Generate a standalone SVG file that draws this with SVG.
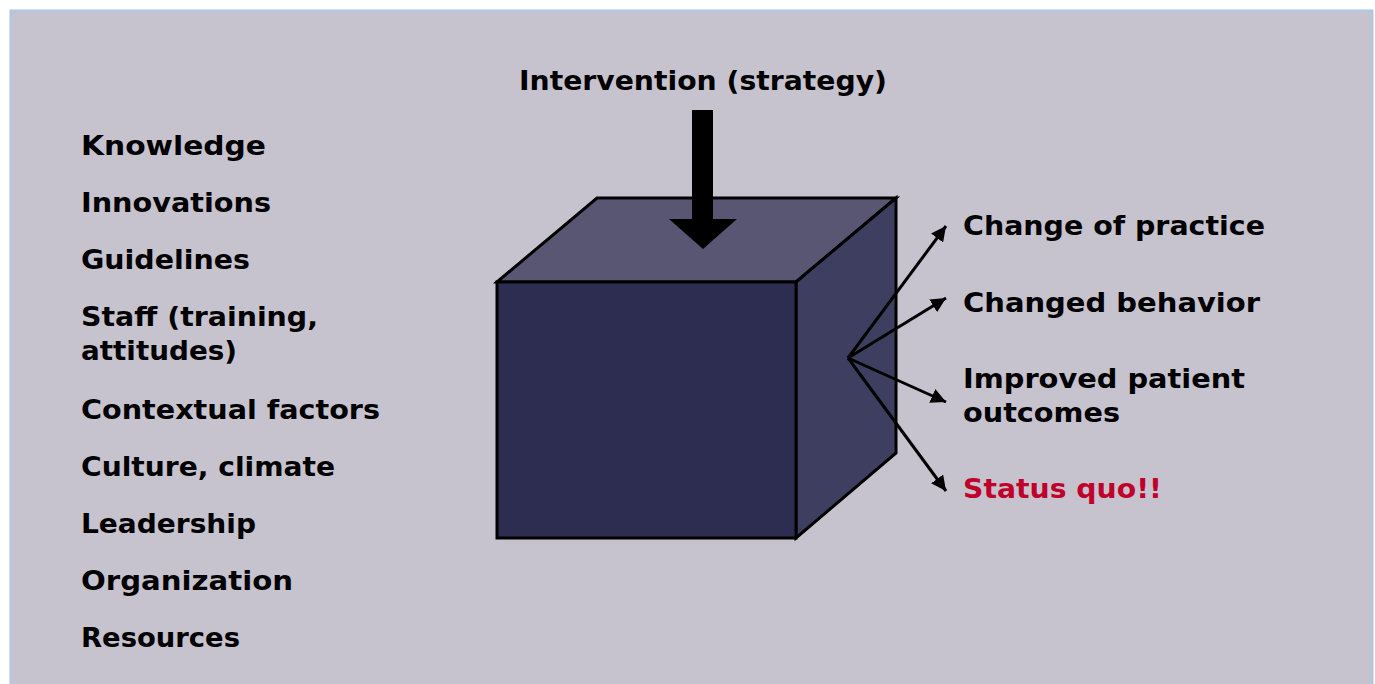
<svg xmlns="http://www.w3.org/2000/svg" width="1375" height="684" viewBox="0 0 1375 684">
<defs>
<style>
.t{font-family:"DejaVu Sans","Open Sans",sans-serif;font-weight:bold;font-size:26px;fill:#000;}
.red{fill:#c0002a;}
.edge{stroke:#000;stroke-width:3;fill:none;marker-end:url(#ah);}
.face{stroke:#000;stroke-width:3;stroke-linejoin:miter;}
</style>
<marker id="ah" viewBox="0 0 10 10" refX="10" refY="5" markerWidth="5" markerHeight="5" orient="auto" markerUnits="strokeWidth">
<path d="M0,0 L10,5 L0,10 z" fill="#000"/>
</marker>
</defs>
<rect x="10.5" y="10.5" width="1362" height="680" fill="#c6c3cf" stroke="#a9c8e8" stroke-width="2"/>
<g id="title"><text class="t" x="519" y="90" textLength="368" lengthAdjust="spacingAndGlyphs">Intervention (strategy)</text></g>
<g id="factors">
<text class="t" x="81" y="155" textLength="185" lengthAdjust="spacingAndGlyphs">Knowledge</text>
<text class="t" x="81" y="212" textLength="190" lengthAdjust="spacingAndGlyphs">Innovations</text>
<text class="t" x="81" y="269" textLength="169" lengthAdjust="spacingAndGlyphs">Guidelines</text>
<text class="t" x="81" y="326" textLength="237" lengthAdjust="spacingAndGlyphs">Staff (training,</text>
<text class="t" x="81" y="360" textLength="156" lengthAdjust="spacingAndGlyphs">attitudes)</text>
<text class="t" x="81" y="419" textLength="299" lengthAdjust="spacingAndGlyphs">Contextual factors</text>
<text class="t" x="81" y="476" textLength="254" lengthAdjust="spacingAndGlyphs">Culture, climate</text>
<text class="t" x="81" y="533" textLength="175" lengthAdjust="spacingAndGlyphs">Leadership</text>
<text class="t" x="81" y="590" textLength="212" lengthAdjust="spacingAndGlyphs">Organization</text>
<text class="t" x="81" y="647" textLength="159" lengthAdjust="spacingAndGlyphs">Resources</text>
</g>
<g id="cube">
<polygon class="face" points="497,282 597,198 896,198 796,282" fill="#585673"/>
<polygon class="face" points="796,282 896,198 896,453 796,538" fill="#3e3f60"/>
<rect class="face" x="497" y="282" width="299" height="256" fill="#2c2d50"/>
</g>
<g id="intervention-arrow">
<polygon points="692,110 713,110 713,219 737,219 703,249 669,219 692,219" fill="#000"/>
</g>
<g id="connectors">
<line class="edge" x1="848" y1="358" x2="946" y2="226"/>
<line class="edge" x1="848" y1="358" x2="946" y2="298"/>
<line class="edge" x1="848" y1="358" x2="946" y2="402"/>
<line class="edge" x1="848" y1="358" x2="946" y2="491"/>
</g>
<g id="outcomes">
<text class="t" x="963" y="235" textLength="302" lengthAdjust="spacingAndGlyphs">Change of practice</text>
<text class="t" x="963" y="312" textLength="297" lengthAdjust="spacingAndGlyphs">Changed behavior</text>
<text class="t" x="963" y="388" textLength="282" lengthAdjust="spacingAndGlyphs">Improved patient</text>
<text class="t" x="963" y="422" textLength="157" lengthAdjust="spacingAndGlyphs">outcomes</text>
<text class="t red" x="963" y="498" textLength="199" lengthAdjust="spacingAndGlyphs">Status quo!!</text>
</g>
</svg>
